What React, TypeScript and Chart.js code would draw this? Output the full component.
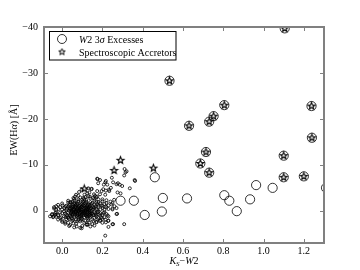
import React, { useEffect, useRef } from "react";
import { Chart, registerables } from "chart.js";
Chart.register(...registerables);

const xTicks = [0, 0.2, 0.4, 0.6, 0.8, 1.0, 1.2];
const yTicks = [-40, -30, -20, -10, 0];
const xMin = -0.09, xMax = 1.3;
const yMin = -40, yMax = 7;

const coreDots: number[][] = [
  [0.03,-2.2],[0.06,-2.6],[0.08,-2.1],[0.10,-2.4],[0.12,-2.0],[0.14,-2.7],[0.16,-2.2],[0.18,-2.5],[0.20,-2.1],[0.22,-2.3],[0.09,-2.9],[0.13,-3.2],[0.05,-2.0],[0.17,-3.0],[0.24,-2.0],[0.11,-2.6],
  [-0.02,-1.3],[0.00,-1.6],[0.02,-1.1],[0.03,-1.8],[0.04,-1.4],[0.05,-1.0],[0.06,-1.7],[0.07,-1.3],[0.08,-1.9],[0.09,-1.2],[0.10,-1.6],[0.11,-1.0],[0.12,-1.8],[0.13,-1.4],[0.14,-1.1],[0.15,-1.7],[0.16,-1.3],[0.17,-1.9],[0.18,-1.2],[0.19,-1.6],[0.20,-1.0],[0.21,-1.5],[0.23,-1.2],[0.25,-1.7],[0.065,-1.5],[0.085,-1.1],[0.105,-1.9],[0.125,-1.2],[0.145,-1.5],[0.035,-1.2],[0.175,-1.5],
  [-0.04,-0.5],[-0.03,-0.2],[-0.01,-0.8],[0.00,-0.3],[0.01,-0.6],[0.02,-0.1],[0.03,-0.9],[0.04,-0.4],[0.05,-0.7],[0.06,-0.2],[0.07,-0.8],[0.075,-0.4],[0.08,-0.1],[0.09,-0.6],[0.095,-0.3],[0.10,-0.9],[0.11,-0.5],[0.115,-0.1],[0.12,-0.7],[0.13,-0.3],[0.135,-0.8],[0.14,-0.5],[0.15,-0.2],[0.16,-0.7],[0.17,-0.4],[0.18,-0.9],[0.19,-0.3],[0.20,-0.6],[0.21,-0.2],[0.22,-0.8],[0.23,-0.4],[0.045,-0.1],[0.065,-0.5],[0.085,-0.9],[0.105,-0.2],[0.125,-0.5],[0.155,-0.8],[0.025,-0.4],
  [-0.05,0.7],[-0.03,0.3],[-0.02,0.9],[0.00,0.5],[0.01,0.1],[0.02,0.8],[0.03,0.4],[0.04,0.9],[0.05,0.2],[0.055,0.6],[0.06,1.0],[0.07,0.3],[0.075,0.7],[0.08,0.1],[0.09,0.5],[0.095,0.9],[0.10,0.2],[0.11,0.6],[0.115,0.0],[0.12,0.8],[0.13,0.4],[0.14,0.9],[0.145,0.1],[0.15,0.6],[0.16,0.3],[0.17,0.8],[0.18,0.2],[0.19,0.5],[0.20,0.9],[0.21,0.3],[0.22,0.7],[0.035,0.0],[0.065,0.4],[0.085,0.8],[0.105,0.4],[0.125,0.2],[0.135,0.6],[0.165,0.5],[0.015,0.6],[0.045,0.5],
  [-0.03,1.3],[-0.01,1.6],[0.01,1.2],[0.02,1.8],[0.03,1.4],[0.04,1.1],[0.05,1.7],[0.06,1.3],[0.07,1.9],[0.08,1.5],[0.09,1.2],[0.10,1.8],[0.11,1.4],[0.12,1.1],[0.13,1.7],[0.14,1.3],[0.15,1.9],[0.16,1.5],[0.17,1.2],[0.18,1.6],[0.19,1.1],[0.20,1.8],[0.21,1.4],[0.23,1.2],[0.075,1.2],[0.095,1.6],[0.125,1.5],
  [0.00,2.1],[0.03,2.6],[0.05,2.2],[0.07,2.8],[0.09,2.3],[0.11,2.6],[0.13,2.1],[0.15,2.9],[0.17,2.4],[0.19,2.0],[0.04,3.1],[0.10,3.3],[0.14,3.4],[0.08,2.0],[0.12,3.0],
  [0.045,-0.6],[0.055,0.3],[0.065,-1.1],[0.075,0.5],[0.085,-0.4],[0.095,1.1],[0.105,-0.7],[0.115,0.9],[0.125,-1.0],[0.135,0.2],[0.045,1.3],[0.055,-1.3],[0.065,0.8],[0.085,0.3],[0.095,-1.4],[0.105,1.0],[0.115,-1.2],[0.125,0.7],[0.135,-0.1],[0.145,1.1],[0.07,0.0],[0.09,-0.05],[0.11,0.15],[0.13,-0.6],[0.06,-0.4],[0.10,0.7],[0.12,-0.3],[0.08,-0.7],[0.14,0.4],[0.05,0.8],
  [0.035,-0.5],[0.045,0.2],[0.055,-0.9],[0.065,0.1],[0.075,-1.6],[0.085,1.3],[0.095,-0.8],[0.105,0.1],[0.115,-1.6],[0.125,1.2],[0.135,-1.3],[0.145,0.6],[0.155,-0.4],[0.165,1.0],[0.175,-0.2],[0.185,0.8],[0.195,-1.2],[0.205,0.5],[0.215,-0.9],[0.225,1.0],
  [0.04,-1.9],[0.06,-2.2],[0.08,-2.5],[0.10,-2.0],[0.12,-2.4],[0.14,-1.9],[0.16,-2.6],[0.18,-1.9],[0.20,-2.5],[0.22,-1.7],
  [0.035,1.8],[0.055,2.0],[0.075,2.3],[0.095,2.0],[0.115,2.2],[0.135,2.5],[0.155,2.2],[0.175,1.9],[0.195,1.5],[0.215,1.9],
  [0.055,-0.1],[0.065,-0.8],[0.075,0.9],[0.085,-0.2],[0.095,0.3],[0.105,-1.2],[0.115,0.4],[0.125,-0.2],[0.135,1.0],[0.145,-0.6],[0.155,0.9],[0.165,-1.0],[0.175,0.3],[0.025,1.0],[0.015,-0.9],
  [-0.06,1.2],[-0.05,0.9],[-0.045,1.4],[-0.035,0.5],[-0.02,1.9],[0.0,2.4],[-0.04,-0.8],[-0.03,-1.0],[0.015,2.8],[0.035,3.3],[0.06,3.6],[0.09,3.7],[0.125,3.0],[0.16,3.2],[0.2,2.6],[0.23,2.1],[0.25,-0.3],[0.26,-1.0],[0.27,0.7],[0.25,2.9],[0.23,3.5],
];

const outlierDots: number[][] = [
  [0.31,-9.1],[0.315,-8.4],[0.308,-7.7],[0.362,-6.5],[0.336,-4.9],[0.298,-5.4],[0.277,-6.0],[0.275,-4.0],[0.247,-7.2],[0.253,-6.2],[0.242,-5.0],[0.224,-5.7],[0.207,-5.7],[0.214,-6.2],[0.188,-6.7],[0.176,-6.9],[0.232,-4.6],[0.147,-4.8],[0.130,-4.9],[0.097,-4.6],[0.125,-3.8],[0.163,-3.3],[0.188,-3.6],[0.214,-3.5],[0.217,-4.4],[0.258,-2.4],[0.245,-1.4],[0.25,-0.5],[0.273,0.65],[0.27,-0.6],[0.253,2.9],[0.229,2.2],[0.217,2.5],[0.188,2.2],[0.171,2.5],[0.308,2.9],[0.214,5.4],[0.125,3.0],[0.072,3.4],[0.097,3.8],[0.056,2.7],[0.015,2.5],[-0.043,1.2],[-0.035,0.9],[-0.02,1.0],[-0.01,0.36],[-0.018,-0.4],[0.002,-1.2],[0.031,1.6],[0.018,1.4],[-0.005,1.4],[0.043,-1.8],[0.056,-2.8],[0.064,-3.1],[0.080,-3.3],[0.105,-2.8],[0.116,-3.0],[0.138,-3.1],[0.154,-2.8],[0.174,-3.1],[0.196,-4.3],[0.174,-4.3],[0.179,-6.0],[0.135,-4.0],[0.111,-3.5],[0.084,-4.1],[0.069,-3.5],[0.174,-7.0],[0.217,-6.5],[0.27,-5.8],[0.286,-5.7],[0.32,-8.6],[0.36,-6.7],[0.145,-4.7],[0.204,-4.7],[0.234,-4.3],[0.29,-3.8],[0.158,-3.6],
];

const excessPoints: number[][] = [
  [0.29,-2.2],[0.356,-2.2],[0.41,0.9],[0.46,-7.3],[0.50,-2.8],[0.495,0.15],[0.62,-2.7],[0.805,-3.4],[0.83,-2.2],[0.867,0.07],[0.933,-2.5],[0.963,-5.6],[1.045,-5.0],[1.31,-5.0],
  [0.533,-28.3],[1.105,-39.7],[0.805,-23.0],[1.238,-22.8],[0.63,-18.5],[0.73,-19.4],[0.752,-20.6],[1.10,-12.0],[1.10,-7.3],[1.20,-7.5],[1.24,-15.9],[0.714,-12.8],[0.686,-10.3],[0.73,-8.3],
];

const accretorPoints: number[][] = [
  [0.533,-28.3],[1.105,-39.7],[0.805,-23.0],[1.238,-22.8],[0.63,-18.5],[0.73,-19.4],[0.752,-20.6],[1.10,-12.0],[1.10,-7.3],[1.20,-7.5],[1.24,-15.9],[0.714,-12.8],[0.686,-10.3],[0.73,-8.3],
  [0.29,-11.0],[0.258,-8.8],[0.453,-9.3],[0.11,-4.8],
];

const SERIF = "'Liberation Serif', 'Times New Roman', serif";

function makeStar(size: number, R: number, r: number, lw: number) {
  const c = document.createElement("canvas");
  c.width = size; c.height = size;
  const g = c.getContext("2d")!;
  g.translate(size / 2, size / 2);
  g.beginPath();
  for (let i = 0; i < 10; i++) {
    const rad = i % 2 === 0 ? R : r;
    const a = -Math.PI / 2 + (i * Math.PI) / 5;
    g.lineTo(rad * Math.cos(a), rad * Math.sin(a));
  }
  g.closePath();
  g.lineWidth = lw;
  g.strokeStyle = "#000";
  g.lineJoin = "miter";
  g.stroke();
  return c;
}

function fmt(v: number, d: number) {
  const s = Math.abs(v).toFixed(d);
  return v < 0 ? "\u2212" + s : s;
}

function drawParts(ctx: CanvasRenderingContext2D, parts: { t: string; f: string; dy?: number }[], x: number, y: number, align: "left" | "center") {
  let total = 0;
  for (const p of parts) { ctx.font = p.f; total += ctx.measureText(p.t).width; }
  let cx = align === "center" ? x - total / 2 : x;
  ctx.textAlign = "left";
  for (const p of parts) {
    ctx.font = p.f;
    ctx.fillText(p.t, cx, y + (p.dy || 0));
    cx += ctx.measureText(p.t).width;
  }
}

export default function App() {
  const ref = useRef<HTMLCanvasElement>(null);
  useEffect(() => {
    const star = makeStar(11, 3.6, 1.5, 1.1);
    const legendStar = makeStar(11, 3.4, 1.4, 1.0);
    const axesPlugin = {
      id: "axesPlugin",
      afterDraw(chart: any) {
        const ctx: CanvasRenderingContext2D = chart.ctx;
        const a = chart.chartArea;
        const xs = chart.scales.x, ys = chart.scales.y;
        ctx.save();
        ctx.strokeStyle = "#808080";
        ctx.lineWidth = 2;
        ctx.strokeRect(a.left, a.top, a.right - a.left, a.bottom - a.top);
        ctx.lineWidth = 1;
        ctx.beginPath();
        for (const t of xTicks) {
          const px = Math.round(xs.getPixelForValue(t)) + 0.5;
          ctx.moveTo(px, a.bottom); ctx.lineTo(px, a.bottom - 4);
          ctx.moveTo(px, a.top); ctx.lineTo(px, a.top + 4);
        }
        for (const t of yTicks) {
          const py = Math.round(ys.getPixelForValue(t)) + 0.5;
          ctx.moveTo(a.left, py); ctx.lineTo(a.left + 4, py);
          ctx.moveTo(a.right, py); ctx.lineTo(a.right - 4, py);
        }
        ctx.stroke();
        ctx.fillStyle = "#000";
        ctx.font = `10px ${SERIF}`;
        ctx.textBaseline = "alphabetic";
        ctx.textAlign = "center";
        for (const t of xTicks) {
          ctx.fillText(fmt(t, 1), xs.getPixelForValue(t), a.bottom + 11);
        }
        ctx.textAlign = "right";
        ctx.textBaseline = "middle";
        for (const t of yTicks) {
          ctx.fillText(fmt(t, 0), a.left - 6, ys.getPixelForValue(t));
        }
        ctx.textBaseline = "alphabetic";
        const it = `italic 10px ${SERIF}`, rm = `10px ${SERIF}`;
        drawParts(ctx, [
          { t: "K", f: it },
          { t: "S", f: `italic 7px ${SERIF}`, dy: 2 },
          { t: "\u2212", f: rm },
          { t: "W", f: it },
          { t: "2", f: rm },
        ], (a.left + a.right) / 2, 264, "center");
        ctx.save();
        ctx.translate(17, 130);
        ctx.rotate(-Math.PI / 2);
        drawParts(ctx, [
          { t: "EW(H", f: rm },
          { t: "\u03b1", f: it },
          { t: ") [\u00c5]", f: rm },
        ], 0, 0, "center");
        ctx.restore();
        ctx.fillStyle = "#fff";
        ctx.fillRect(49.5, 31.5, 126.5, 28.5);
        ctx.strokeStyle = "#000";
        ctx.lineWidth = 1;
        ctx.strokeRect(49.5, 31.5, 126.5, 28.5);
        ctx.beginPath();
        ctx.arc(62, 39, 4.5, 0, Math.PI * 2);
        ctx.lineWidth = 0.8;
        ctx.stroke();
        ctx.drawImage(legendStar, 62 - 5.5, 52 - 5.5);
        ctx.fillStyle = "#000";
        drawParts(ctx, [
          { t: "W", f: it },
          { t: "2 3", f: rm },
          { t: "\u03c3", f: it },
          { t: " Excesses", f: rm },
        ], 79, 42.5, "left");
        drawParts(ctx, [{ t: "Spectroscopic Accretors", f: rm }], 79, 55.5, "left");
        ctx.restore();
      },
    };
    const toPts = (arr: number[][]) => arr.map(([x, y]) => ({ x, y }));
    const chart = new Chart(ref.current!, {
      type: "scatter",
      data: {
        datasets: [
          {
            data: toPts(accretorPoints),
            pointStyle: star as any,
            pointRadius: 4,
            clip: 0 as any,
          },
          {
            data: toPts(excessPoints),
            pointStyle: "circle",
            pointRadius: 4.6,
            borderWidth: 0.8,
            borderColor: "#000",
            backgroundColor: "rgba(0,0,0,0)",
            clip: 0 as any,
          },
          {
            data: toPts([...coreDots, ...outlierDots]),
            pointStyle: "circle",
            pointRadius: 1.5,
            borderWidth: 0.8,
            borderColor: "#000",
            backgroundColor: "rgba(0,0,0,0)",
            clip: 0 as any,
          },
        ],
      },
      options: {
        animation: false,
        responsive: false,
        events: [],
        layout: { padding: { left: 44, right: 36, top: 27, bottom: 27 } },
        scales: {
          x: { type: "linear", display: false, min: xMin, max: xMax },
          y: { type: "linear", display: false, min: yMin, max: yMax, reverse: true },
        },
        plugins: { legend: { display: false }, tooltip: { enabled: false } },
      },
      plugins: [axesPlugin],
    } as any);
    return () => chart.destroy();
  }, []);
  return (
    <div style={{ position: "absolute", left: 0, top: 0, width: 360, height: 270, background: "#fff" }}>
      <canvas ref={ref} width={360} height={270} />
    </div>
  );
}
